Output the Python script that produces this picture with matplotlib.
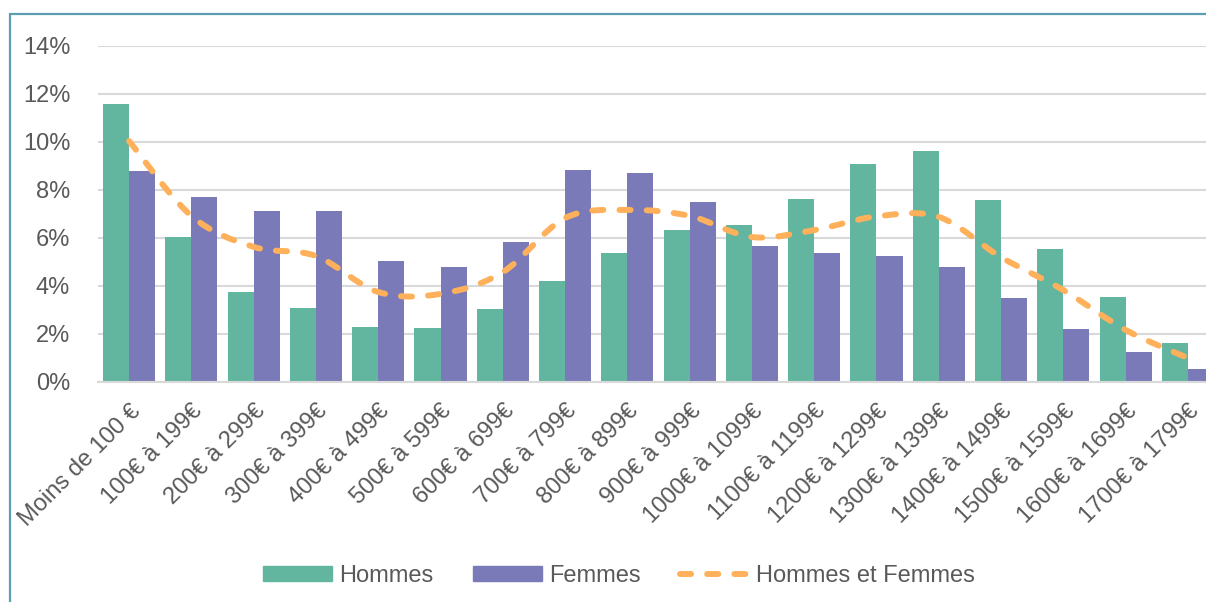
import numpy as np
import matplotlib
matplotlib.use("Agg")
from matplotlib import pyplot as plt
from matplotlib.path import Path
from matplotlib.patches import PathPatch, Rectangle, Patch
from matplotlib.lines import Line2D

categories = ["Moins de 100 €", "100€ à 199€", "200€ à 299€", "300€ à 399€",
              "400€ à 499€", "500€ à 599€", "600€ à 699€", "700€ à 799€",
              "800€ à 899€", "900€ à 999€", "1000€ à 1099€", "1100€ à 1199€",
              "1200€ à 1299€", "1300€ à 1399€", "1400€ à 1499€", "1500€ à 1599€",
              "1600€ à 1699€", "1700€ à 1799€"]
hommes = [11.6, 6.04, 3.75, 3.08, 2.29, 2.25, 3.04, 4.21, 5.38, 6.33,
          6.54, 7.63, 9.08, 9.63, 7.58, 5.54, 3.54, 1.63]
femmes = [8.79, 7.71, 7.13, 7.13, 5.04, 4.79, 5.83, 8.83, 8.71, 7.50,
          5.67, 5.38, 5.25, 4.79, 3.50, 2.21, 1.25, 0.54]
ensemble = [10.04, 6.92, 5.63, 5.25, 3.75, 3.67, 4.58, 6.83, 7.17, 6.92,
            6.04, 6.33, 6.90, 6.88, 5.20, 3.83, 2.17, 1.00]

GREEN = "#62B59E"
PURPLE = "#7A7AB9"
ORANGE = "#FFB05A"
TEXT = "#595959"
GRID = "#D9D9D9"
DASH = (0, (1.85, 2.7))

plt.rcParams['font.family'] = ['Liberation Sans', 'DejaVu Sans']

fig = plt.figure(figsize=(12.06, 6.02), dpi=100)
ax = fig.add_axes([98 / 1206, 220 / 602, 1121 / 1206, 336 / 602])

x = np.arange(len(categories))
w = 0.418
ax.bar(x - w / 2, hommes, w, color=GREEN, zorder=2)
ax.bar(x + w / 2, femmes, w, color=PURPLE, zorder=2)

# smoothed line (Catmull-Rom as cubic Bezier segments)
pts = np.column_stack([x, ensemble]).astype(float)
verts = [pts[0]]
codes = [Path.MOVETO]
n = len(pts)
for i in range(n - 1):
    p0 = pts[max(i - 1, 0)]
    p1 = pts[i]
    p2 = pts[i + 1]
    p3 = pts[min(i + 2, n - 1)]
    verts += [p1 + (p2 - p0) / 6, p2 - (p3 - p1) / 6, p2]
    codes += [Path.CURVE4] * 3
ax.add_patch(PathPatch(Path(verts, codes), fill=False, edgecolor=ORANGE, lw=4.3,
                       linestyle=DASH, capstyle='round', zorder=3))

ax.set_xlim(-0.5, len(categories) - 0.5)
ax.set_ylim(0, 14)
ax.set_yticks(np.arange(0, 15, 2))
ax.set_yticklabels([f"{v}%" for v in range(0, 15, 2)])
ax.set_xticks(x)
ax.set_xticklabels(categories, rotation=45, ha='right', rotation_mode='anchor')
ax.tick_params(axis='both', length=0, labelsize=17, labelcolor=TEXT)
ax.tick_params(axis='y', pad=20)
ax.tick_params(axis='x', pad=13)
ax.grid(axis='y', color=GRID, lw=1.5, zorder=0)
for s in ['top', 'right', 'left']:
    ax.spines[s].set_visible(False)
ax.spines['bottom'].set_color(GRID)
ax.spines['bottom'].set_linewidth(1.5)

handles = [Patch(color=GREEN, label="Hommes"),
           Patch(color=PURPLE, label="Femmes"),
           Line2D([0], [0], color=ORANGE, lw=4.3, linestyle=DASH,
                  dash_capstyle='round', label="Hommes et Femmes")]
fig.legend(handles=handles, loc='center', bbox_to_anchor=(619 / 1206, 1 - 576 / 602),
           ncol=3, frameon=False, fontsize=17, labelcolor=TEXT,
           handlelength=2.9, handleheight=0.6, columnspacing=1.7, handletextpad=0.3)

fig.patches.append(Rectangle((10 / 1206, -0.1), 1.2, 1.1 - 14 / 602,
                             transform=fig.transFigure, fill=False,
                             edgecolor="#5B9DB2", lw=1.6))

fig.savefig("out.png", dpi=100)
